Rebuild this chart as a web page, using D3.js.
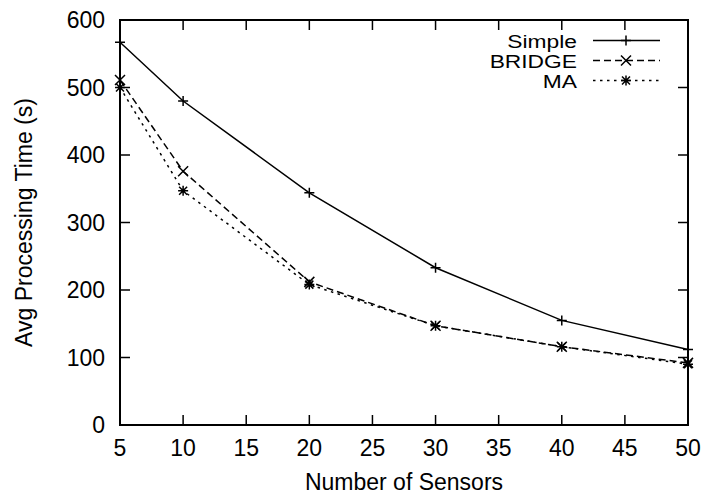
<!DOCTYPE html>
<html>
<head>
<meta charset="utf-8">
<script src="https://cdn.jsdelivr.net/npm/d3@7"></script>
<style>
  body { margin: 0; background: #fff; }
  text { font-family: "Liberation Sans", Arial, sans-serif; fill: #000; }
</style>
</head>
<body>
<div id="container"></div>
<script>
const sensors = [5, 10, 20, 30, 40, 50];
const simpleTimes = [567, 480, 344, 233, 155, 112];
const bridgeTimes = [511, 376, 212, 147, 116, 92];
const maTimes = [500, 347, 208, 147, 116, 90];
const xTicks = [5, 10, 15, 20, 25, 30, 35, 40, 45, 50];
const yTicks = [0, 100, 200, 300, 400, 500, 600];

const width = 704;
const height = 495;
const marginTop = 20;
const marginRight = 16;
const marginBottom = 70;
const marginLeft = 120;
const fontSize = 23;
const tickLen = 10;

const x = d3.scaleLinear()
  .domain([5, 50])
  .range([marginLeft, width - marginRight]);

const y = d3.scaleLinear()
  .domain([0, 600])
  .range([height - marginBottom, marginTop]);

const svg = d3.create("svg")
  .attr("width", width)
  .attr("height", height);

const series = [
  { name: "Simple", values: simpleTimes, dash: null, marker: "plus" },
  { name: "BRIDGE", values: bridgeTimes, dash: "7,4", marker: "cross" },
  { name: "MA", values: maTimes, dash: "2.5,4.5", marker: "star" }
];

// ticks pointing inward, mirrored on top/right
const tickG = svg.append("g").attr("stroke", "#000").attr("stroke-width", 1.5);
xTicks.forEach(t => {
  tickG.append("line").attr("x1", x(t)).attr("x2", x(t))
    .attr("y1", y(0)).attr("y2", y(0) - tickLen);
  tickG.append("line").attr("x1", x(t)).attr("x2", x(t))
    .attr("y1", y(600)).attr("y2", y(600) + tickLen);
});
yTicks.forEach(t => {
  tickG.append("line").attr("x1", x(5)).attr("x2", x(5) + tickLen)
    .attr("y1", y(t)).attr("y2", y(t));
  tickG.append("line").attr("x1", x(50)).attr("x2", x(50) - tickLen)
    .attr("y1", y(t)).attr("y2", y(t));
});

svg.append("g")
  .attr("font-size", fontSize)
  .attr("text-anchor", "middle")
  .selectAll("text")
  .data(xTicks)
  .join("text")
  .attr("x", d => x(d))
  .attr("y", y(0) + 31)
  .text(d => d);

svg.append("g")
  .attr("font-size", fontSize)
  .attr("text-anchor", "end")
  .selectAll("text")
  .data(yTicks)
  .join("text")
  .attr("x", marginLeft - 15)
  .attr("y", d => y(d) + 8)
  .text(d => d);

const markerPath = (type, s) => {
  if (type === "plus") return `M${-s},0H${s}M0,${-s}V${s}`;
  if (type === "cross") return `M${-s},${-s}L${s},${s}M${-s},${s}L${s},${-s}`;
  return `M${-s},0H${s}M0,${-s}V${s}M${-s * 0.8},${-s * 0.8}L${s * 0.8},${s * 0.8}M${-s * 0.8},${s * 0.8}L${s * 0.8},${-s * 0.8}`;
};

const line = d3.line()
  .x((d, i) => x(sensors[i]))
  .y(d => y(d));

series.forEach(s => {
  svg.append("path")
    .datum(s.values)
    .attr("fill", "none")
    .attr("stroke", "#000")
    .attr("stroke-width", 1.5)
    .attr("stroke-dasharray", s.dash)
    .attr("d", line);

  svg.append("g")
    .selectAll("path")
    .data(s.values)
    .join("path")
    .attr("transform", (d, i) => `translate(${x(sensors[i])},${y(d)})`)
    .attr("d", markerPath(s.marker, 5))
    .attr("stroke", "#000")
    .attr("stroke-width", 1.5)
    .attr("fill", "none");
});

// frame
svg.append("rect")
  .attr("x", x(5))
  .attr("y", y(600))
  .attr("width", x(50) - x(5))
  .attr("height", y(0) - y(600))
  .attr("fill", "none")
  .attr("stroke", "#000")
  .attr("stroke-width", 2);

// legend - glyphs are wide but short in the reference, so stretch a smaller font
const legend = svg.append("g").attr("font-size", 19);
series.forEach((s, i) => {
  const base = 47.5 + i * 20;
  const ly = base - 7;
  legend.append("text")
    .attr("transform", `translate(577,${base}) scale(1.2,1)`)
    .attr("text-anchor", "end")
    .text(s.name);
  legend.append("line")
    .attr("x1", 593).attr("x2", 660)
    .attr("y1", ly).attr("y2", ly)
    .attr("stroke", "#000")
    .attr("stroke-width", 1.5)
    .attr("stroke-dasharray", s.dash);
  legend.append("path")
    .attr("transform", `translate(626,${ly})`)
    .attr("d", markerPath(s.marker, 5))
    .attr("stroke", "#000")
    .attr("stroke-width", 1.5)
    .attr("fill", "none");
});

svg.append("text")
  .attr("x", (x(5) + x(50)) / 2)
  .attr("y", 490)
  .attr("text-anchor", "middle")
  .attr("font-size", fontSize)
  .text("Number of Sensors");

svg.append("text")
  .attr("transform", `translate(32,${(y(0) + y(600)) / 2}) rotate(-90)`)
  .attr("text-anchor", "middle")
  .attr("font-size", fontSize)
  .text("Avg Processing Time (s)");

d3.select("#container").append(() => svg.node());
</script>
</body>
</html>
